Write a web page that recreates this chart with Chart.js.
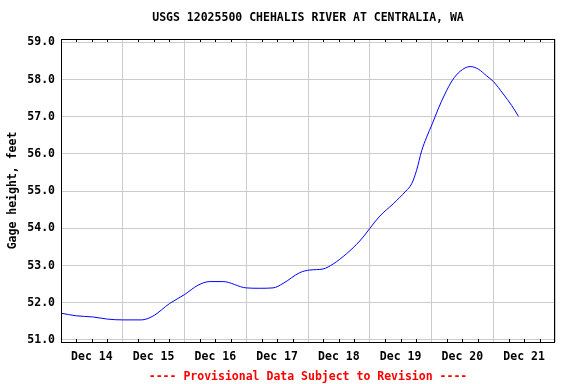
<!DOCTYPE html>
<html>
<head>
<meta charset="utf-8">
<script src="https://cdn.jsdelivr.net/npm/chart.js@4/dist/chart.umd.min.js"></script>
<style>
  html, body { margin: 0; padding: 0; background: #ffffff; }
  #wrap { width: 576px; height: 384px; }
</style>
</head>
<body>
<div id="wrap"><canvas id="c" width="576" height="384"></canvas></div>
<script>
// Hours since Dec 14 00:00
const hours = [0, 5.9, 12.3, 18.2, 24.0, 31.2, 35.7, 42.2, 48.0, 53.2, 57.8, 62.9, 72.0, 77.2, 82.4, 86.3, 92.8, 96.7, 101.9, 105.7, 111.0, 116.1, 123.9, 129.1, 134.0, 136.3, 138.2, 140.2, 142.1, 144.3, 146.6, 149.2, 152.2, 155.1, 159.0, 162.2, 165.4, 168.0, 171.9, 175.2, 177.8];
// Gage height, feet
const gageHeight = [51.72, 51.65, 51.62, 51.56, 51.54, 51.54, 51.64, 51.98, 52.22, 52.47, 52.57, 52.57, 52.40, 52.39, 52.40, 52.52, 52.81, 52.88, 52.91, 53.04, 53.32, 53.66, 54.33, 54.66, 55.00, 55.20, 55.56, 56.09, 56.45, 56.81, 57.21, 57.61, 57.99, 58.22, 58.35, 58.28, 58.10, 57.95, 57.61, 57.30, 57.01];
const dayLabels = ['Dec 14', 'Dec 15', 'Dec 16', 'Dec 17', 'Dec 18', 'Dec 19', 'Dec 20', 'Dec 21'];
const titleText = 'USGS 12025500 CHEHALIS RIVER AT CENTRALIA, WA';
const footerText = '---- Provisional Data Subject to Revision ----';
const yAxisTitle = 'Gage height, feet';

const FONT = 'DejaVu Sans Mono';
const GRID = '#cccccc';

const points = hours.map((h, i) => ({ x: h, y: gageHeight[i] }));

const framePlugin = {
  id: 'frame',
  afterDatasetsDraw(chart) {
    const ctx = chart.ctx;
    const a = chart.chartArea;
    const xs = chart.scales.x;
    ctx.save();
    ctx.strokeStyle = '#000000';
    ctx.lineWidth = 1;
    // minor ticks every 6 hours, inside top and bottom borders
    ctx.beginPath();
    for (let h = 6; h < 192; h += 6) {
      if (h % 24 === 0) continue;
      const px = Math.round(xs.getPixelForValue(h)) + 0.5;
      ctx.moveTo(px, Math.round(a.bottom));
      ctx.lineTo(px, Math.round(a.bottom) - 3);
      ctx.moveTo(px, Math.round(a.top));
      ctx.lineTo(px, Math.round(a.top) + 3);
    }
    ctx.stroke();
    ctx.strokeRect(Math.round(a.left) + 0.5, Math.round(a.top) + 0.5,
                   Math.round(a.right - a.left) - 1, Math.round(a.bottom - a.top));
    ctx.restore();
  }
};

new Chart(document.getElementById('c'), {
  type: 'line',
  data: {
    datasets: [{
      data: points,
      borderColor: '#0000ff',
      borderWidth: 1,
      pointRadius: 0,
      fill: false,
      cubicInterpolationMode: 'monotone'
    }]
  },
  options: {
    responsive: false,
    animation: false,
    devicePixelRatio: 1,
    layout: { padding: { left: 0, right: 21, top: 0, bottom: 0 } },
    plugins: {
      legend: { display: false },
      tooltip: { enabled: false },
      title: {
        display: true,
        text: titleText,
        fullSize: false,
        color: '#000000',
        font: { family: FONT, size: 11.5, weight: 'bold', lineHeight: '14px' },
        padding: { top: 11, bottom: 14 }
      },
      subtitle: {
        display: true,
        position: 'bottom',
        text: footerText,
        fullSize: false,
        color: '#ff0000',
        font: { family: FONT, size: 11.5, weight: 'bold', lineHeight: '14px' },
        padding: { top: 0, bottom: 0 }
      }
    },
    scales: {
      x: {
        type: 'linear',
        min: 0,
        max: 192,
        afterFit(scale) { scale.height = 28; },
        border: { display: false },
        grid: {
          drawTicks: false,
          color: (c) => (c.tick && c.tick.value % 24 === 0) ? GRID : 'rgba(0,0,0,0)'
        },
        ticks: {
          stepSize: 12,
          includeBounds: false,
          autoSkip: false,
          maxRotation: 0,
          minRotation: 0,
          padding: 8,
          color: '#000000',
          font: { family: FONT, size: 11.5, weight: 'bold', lineHeight: '14px' },
          callback: (v) => {
            if (v % 24 === 12) {
              const i = Math.floor(v / 24);
              return dayLabels[i] || '';
            }
            return '';
          }
        }
      },
      y: {
        type: 'linear',
        min: 50.946,
        max: 59.09,
        afterFit(scale) { scale.width = 61; },
        border: { display: false },
        grid: { drawTicks: false, color: GRID },
        title: {
          display: true,
          text: yAxisTitle,
          color: '#000000',
          font: { family: FONT, size: 11.5, weight: 'bold', lineHeight: '14px' },
          padding: { top: 6, bottom: 0 }
        },
        ticks: {
          stepSize: 1,
          includeBounds: false,
          padding: 6,
          color: '#000000',
          font: { family: FONT, size: 11.5, weight: 'bold', lineHeight: '14px' },
          callback: (v) => Number(v).toFixed(1)
        }
      }
    }
  },
  plugins: [framePlugin]
});
</script>
</body>
</html>
